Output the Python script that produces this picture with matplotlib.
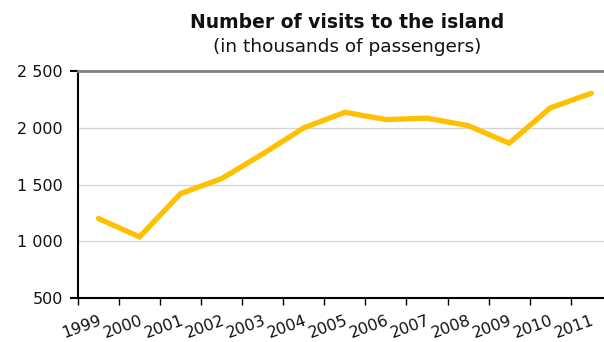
import numpy as np
import matplotlib.pyplot as plt
from matplotlib.ticker import FuncFormatter

# Data
years = ['1999', '2000', '2001', '2002', '2003', '2004', '2005',
         '2006', '2007', '2008', '2009', '2010', '2011']
visits = [1200, 1038, 1420, 1552, 1770, 2000, 2137,
          2073, 2085, 2020, 1864, 2176, 2305]
y_ticks = [500, 1000, 1500, 2000, 2500]


def space_thousands(v, pos=None):
    return f"{int(v):,}".replace(",", " ")


fig = plt.figure(figsize=(6.04, 3.42), dpi=100)
ax = fig.add_axes([0.129, 0.129, 0.884, 0.663])

x = np.arange(len(years))
ax.plot(x, visits, color='#FFC000', lw=3.8, solid_joinstyle='miter',
        solid_capstyle='round', zorder=3)

ax.set_xlim(-0.5, len(years) - 0.5)
ax.set_ylim(500, 2500)

# y axis: gridlines, labels with space as thousands separator
ax.yaxis.remove_overlapping_locs = False
ax.set_yticks(y_ticks)
ax.yaxis.set_major_formatter(FuncFormatter(space_thousands))
ax.set_yticks([500, 2500], minor=True)
ax.tick_params(axis='y', which='major', length=0, pad=11, labelsize=11.5,
               labelcolor='#111111')
ax.tick_params(axis='y', which='minor', length=6, width=1.5)
minor_y = ax.yaxis.get_minor_ticks(2)
minor_y[0].tick1line.set_color('black')
minor_y[1].tick1line.set_color('#808080')
ax.grid(axis='y', color='#d4d4d4', lw=0.9, zorder=0)

# x axis: labels at category centres, tick marks at boundaries
ax.set_xticks(x)
ax.set_xticklabels(years, rotation=20, ha='right', va='top',
                   rotation_mode='anchor')
ax.set_xticks(np.arange(len(years)) - 0.5, minor=True)
ax.tick_params(axis='x', which='major', length=0, pad=11, labelsize=11.5,
               labelcolor='#111111')
ax.tick_params(axis='x', which='minor', length=5, width=1, color='black')

for side in ['left', 'bottom']:
    ax.spines[side].set_color('black')
    ax.spines[side].set_linewidth(1.5)
ax.spines['top'].set_color('#808080')
ax.spines['top'].set_linewidth(2)
ax.spines['right'].set_visible(False)

fig.text(0.5745, 0.935, 'Number of visits to the island', ha='center',
         va='center', fontsize=13.5, fontweight='bold', color='#111111')
fig.text(0.5745, 0.862, '(in thousands of passengers)', ha='center',
         va='center', fontsize=13.3, color='#111111')

fig.savefig('out.png', dpi=100)
